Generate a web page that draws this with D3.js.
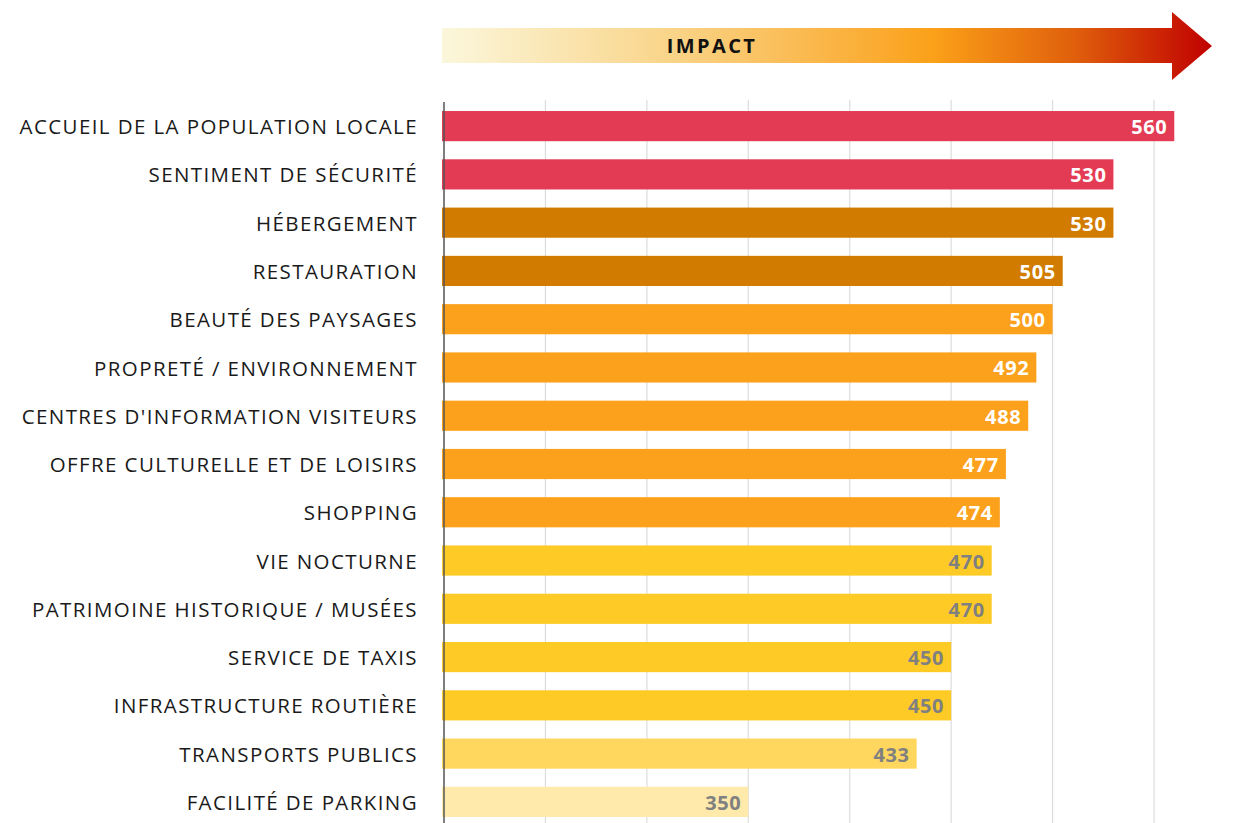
<!DOCTYPE html>
<html>
<head>
<meta charset="utf-8">
<script src="https://cdn.jsdelivr.net/npm/d3@7"></script>
<style>
  body { margin: 0; background: #fff; }
  svg { display: block; font-family: "Open Sans", sans-serif; }
</style>
</head>
<body>
<svg width="1238" height="823"></svg>
<script>
// chart data
var categories = [
    'ACCUEIL DE LA POPULATION LOCALE',
    'SENTIMENT DE SÉCURITÉ',
    'HÉBERGEMENT',
    'RESTAURATION',
    'BEAUTÉ DES PAYSAGES',
    'PROPRETÉ / ENVIRONNEMENT',
    "CENTRES D'INFORMATION VISITEURS",
    'OFFRE CULTURELLE ET DE LOISIRS',
    'SHOPPING',
    'VIE NOCTURNE',
    'PATRIMOINE HISTORIQUE / MUSÉES',
    'SERVICE DE TAXIS',
    'INFRASTRUCTURE ROUTIÈRE',
    'TRANSPORTS PUBLICS',
    'FACILITÉ DE PARKING'
];
var values = [560, 530, 530, 505, 500, 492, 488, 477, 474, 470, 470, 450, 450, 433, 350];
// impact group of each category (0 = highest)
var groups = [0, 0, 1, 1, 2, 2, 2, 2, 2, 3, 3, 3, 3, 4, 5];
var tickValues = [200, 250, 300, 350, 400, 450, 500, 550];
var axisTitle = 'IMPACT';

var palette = ['#E33B53', '#D17C00', '#FCA11C', '#FECB26', '#FFD75E', '#FFEAAB'];
var labelColors = ['#ffffff', '#ffffff', '#ffffff', '#808080', '#808080', '#808080'];

var svg = d3.select('svg');

var data = categories.map(function (c, i) {
    return { name: c, value: values[i], group: groups[i] };
});

var x = d3.scaleLinear().domain([200, 550]).range([444, 1154]);
var y = d3.scaleBand().domain(categories).range([98, 830])
    .paddingInner(0.375).paddingOuter(0.27);
var colorScale = d3.scaleOrdinal().domain(d3.range(palette.length)).range(palette);

// impact arrow on top
var defs = svg.append('defs');
var grad = defs.append('linearGradient').attr('id', 'impactGrad')
    .attr('gradientUnits', 'userSpaceOnUse')
    .attr('x1', 442).attr('x2', 1212).attr('y1', 0).attr('y2', 0);
grad.selectAll('stop')
    .data([
        { o: 0, c: '#FBF7DC' },
        { o: 0.3, c: '#F9D488' },
        { o: 0.64, c: '#FBA018' },
        { o: 0.82, c: '#E0600C' },
        { o: 1, c: '#C00000' }
    ])
    .enter().append('stop')
    .attr('offset', d => d.o)
    .attr('stop-color', d => d.c);

svg.append('path')
    .attr('d', 'M442,28 L1172,28 L1172,12 L1212,46 L1172,80 L1172,63 L442,63 Z')
    .attr('fill', 'url(#impactGrad)');

svg.append('text')
    .attr('x', 712)
    .attr('y', 53)
    .attr('text-anchor', 'middle')
    .style('font-weight', 'bold')
    .style('font-size', '20px')
    .style('letter-spacing', '2.4px')
    .style('fill', '#111')
    .text(axisTitle);

// gridlines
svg.append('g').attr('class', 'grid')
    .selectAll('line')
    .data(tickValues.slice(1))
    .enter().append('line')
    .attr('x1', d => x(d)).attr('x2', d => x(d))
    .attr('y1', 100).attr('y2', 823)
    .attr('stroke', '#dcdcdc')
    .attr('stroke-width', 1.2);

// bars
svg.append('g').selectAll('rect')
    .data(data)
    .enter().append('rect')
    .attr('x', x(200) - 2)
    .attr('y', d => y(d.name))
    .attr('width', d => x(d.value) - x(200) + 2)
    .attr('height', y.bandwidth())
    .attr('fill', d => colorScale(d.group));

// value labels
svg.append('g').selectAll('text')
    .data(data)
    .enter().append('text')
    .attr('x', d => x(d.value) - 7)
    .attr('y', d => y(d.name) + y.bandwidth() / 2)
    .attr('dy', '0.4em')
    .attr('text-anchor', 'end')
    .style('font-weight', 'bold')
    .style('font-size', '20px')
    .style('letter-spacing', '0.6px')
    .style('fill', d => labelColors[d.group])
    .text(d => d.value);

// category axis
var yAxis = svg.append('g')
    .attr('transform', 'translate(444,1.5)')
    .call(d3.axisLeft(y).tickSize(0).tickPadding(26));
yAxis.select('.domain').remove();
yAxis.selectAll('text')
    .style('font-family', '"Open Sans", sans-serif')
    .style('font-size', '20.5px')
    .style('letter-spacing', '1.4px')
    .style('fill', '#1a1a1a');

svg.append('line')
    .attr('x1', 444).attr('x2', 444)
    .attr('y1', 102).attr('y2', 823)
    .attr('stroke', '#555')
    .attr('stroke-width', 1.5);
</script>
</body>
</html>
